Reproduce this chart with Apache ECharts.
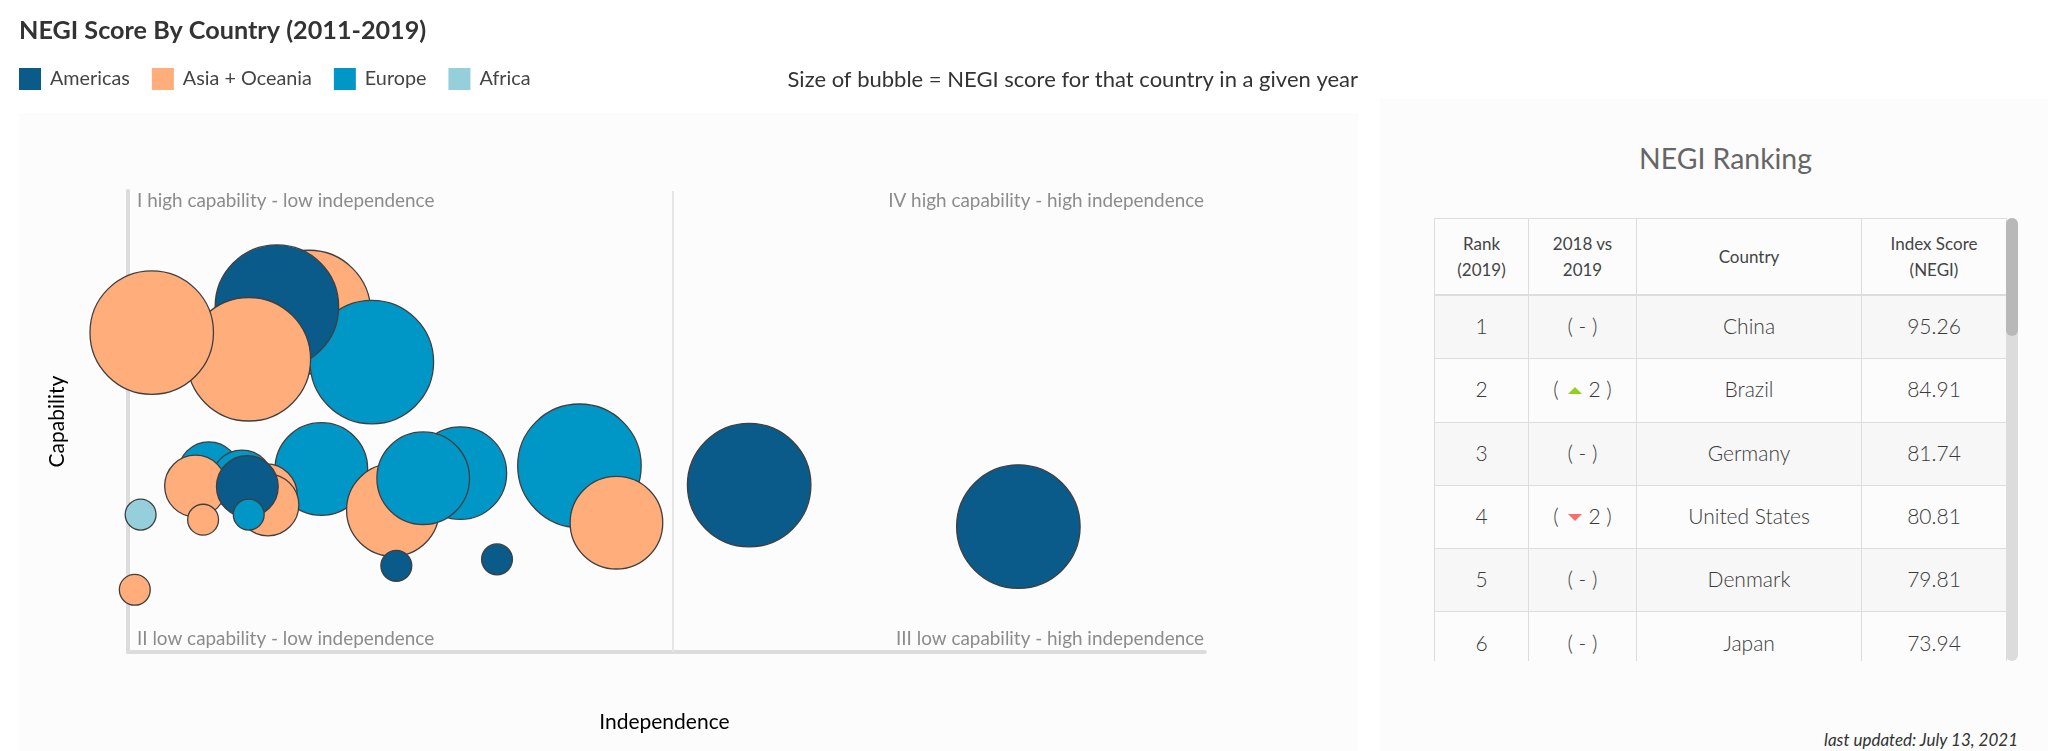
<!DOCTYPE html>
<html><head><meta charset="utf-8">
<script src="https://cdn.jsdelivr.net/npm/echarts@6/dist/echarts.min.js"></script>
<style>
html,body{margin:0;padding:0;width:2048px;height:751px;background:#fff;overflow:hidden;font-family:Lato,sans-serif}
#leftPanel{position:absolute;left:19px;top:113px;width:1339px;height:638px;background:#fcfcfc}
#chart{position:absolute;left:0;top:0;width:1370px;height:751px}
#rightPanel{position:absolute;left:1380px;top:99px;width:668px;height:652px;background:#fcfcfc}
#rankTitle{position:absolute;left:1380px;width:691px;top:138px;text-align:center;font-size:28.4px;color:#666;line-height:40px}
#tableWrap{position:absolute;left:1434px;top:218px;width:573px;height:443px;overflow:hidden}
table{border-collapse:collapse;table-layout:fixed;width:572px;font-weight:300}
td,th{border:1px solid #ddd;text-align:center;padding:0;color:#3a3a3a;font-size:21px;font-weight:300}
th{height:75px;font-size:17px;font-weight:400;color:#444;line-height:26px;border-bottom:2px solid #ddd}
td{height:59.3px;padding-bottom:3px}
tr:nth-child(even) td{background:#f7f7f7}
tr:nth-child(odd) td{background:#fcfcfc}
.up,.down{display:inline-block;width:0;height:0;border-left:7px solid transparent;border-right:7px solid transparent;margin:0 6px 3px 4px}
.up{border-bottom:7px solid #93cf1e}
.down{border-top:7px solid #f56f6f}
#track{position:absolute;left:2006px;top:218px;width:12px;height:443px;background:#dcdcdc;border-radius:6px}
#thumb{position:absolute;left:2006px;top:218px;width:12px;height:118px;background:#b8b8b8;border-radius:6px}
#updated{position:absolute;right:30px;top:729px;font-size:17px;font-style:italic;color:#333;line-height:22px}
</style></head><body>
<div id="leftPanel"></div>
<div id="chart"></div>
<div id="rightPanel"></div>
<div id="rankTitle">NEGI Ranking</div>
<div id="tableWrap"><table id="rank"></table></div>
<div id="track"></div><div id="thumb"></div>
<div id="updated">last updated: July 13, 2021</div>
<script>
// Bubble data, in back-to-front drawing order
const bubbleRegion = ['Asia + Oceania','Europe','Americas','Asia + Oceania','Asia + Oceania','Europe','Europe','Europe','Asia + Oceania','Asia + Oceania','Asia + Oceania','Americas','Asia + Oceania','Europe','Africa','Asia + Oceania','Asia + Oceania','Europe','Europe','Americas','Americas','Europe','Asia + Oceania','Americas','Americas'];
const independence = [16.77,22.6,13.8,11.2,2.2,17.92,7.5,10.57,12.82,12.97,6.26,11.06,6.96,11.19,1.17,0.63,24.55,30.8,27.36,24.87,34.2,41.84,45.27,57.57,82.52];
const capability =   [73.75,62.9,74.9,63.5,69.3,39.7,38.9,37.1,34.1,31.9,36.0,35.9,28.7,29.8,29.8,13.5,30.8,38.8,37.7,18.7,20.1,40.4,28.05,36.2,27.2];
const negiScore =    [100,100,100,100,100,75,50,50,50,50,50,50,25,25,25,25,75,75,75,25,25,100,75,100,100];
const regions = ['Americas','Asia + Oceania','Europe','Africa'];
const regionColors = ['#0a5a8a','#ffad7a','#0097c7','#96cfdc'];
const quadrantLines = {x:50.5,y:50,yTop:100,xRight:100};

// Table data
const tableHead = ['Rank<br>(2019)','2018 vs<br>2019','Country','Index Score<br>(NEGI)'];
const ranks = [1,2,3,4,5,6];
const changes = [0,2,0,-2,0,0];
const countries = ['China','Brazil','Germany','United States','Denmark','Japan'];
const scores = ['95.26','84.91','81.74','80.81','79.81','73.94'];
const colWidths = [94,108,225,145];

const FONT='Lato';
const runs=[];
bubbleRegion.forEach((r,i)=>{
  const last=runs[runs.length-1];
  const p=[independence[i],capability[i],negiScore[i]];
  if(last&&last.name===r) last.data.push(p); else runs.push({name:r,data:[p]});
});
const chart=echarts.init(document.getElementById('chart'));
const quadrantText=(text,x,y,align)=>({type:'text',x,y,style:{text,fill:'#8c8c8c',font:'400 18.9px '+FONT,textAlign:align,textVerticalAlign:'middle'}});
chart.setOption({
  animation:false,
  textStyle:{fontFamily:FONT},
  title:[
    {text:'NEGI Score By Country (2011-2019)',left:19,top:18,padding:0,textStyle:{fontSize:25.2,fontWeight:'bold',color:'#333',fontFamily:FONT}},
    {text:'Size of bubble = NEGI score for that country in a given year',right:12,top:69,padding:0,textStyle:{fontSize:22,fontWeight:'normal',color:'#333',fontFamily:FONT}}
  ],
  legend:{data:regions,left:19,top:68,padding:0,itemWidth:22,itemHeight:22,itemGap:22,icon:'rect',itemStyle:{borderWidth:0},textStyle:{fontSize:19.8,color:'#444',fontFamily:FONT,padding:[0,0,0,4]}},
  grid:{left:128,top:191,width:1076.8,height:461},
  xAxis:{type:'value',min:0,max:99.8,name:'Independence',nameLocation:'middle',nameGap:60,
    nameTextStyle:{fontSize:21,color:'#000',fontFamily:FONT,padding:[0,4,0,0]},
    axisLine:{lineStyle:{color:'#dcdcdc',width:4}},axisTick:{show:false},axisLabel:{show:false},splitLine:{show:false}},
  yAxis:{type:'value',min:0,max:100,name:'Capability',nameLocation:'middle',nameGap:60,
    nameTextStyle:{fontSize:21,color:'#000',fontFamily:FONT},
    axisLine:{lineStyle:{color:'#dcdcdc',width:4}},axisTick:{show:false},axisLabel:{show:false},splitLine:{show:false}},
  graphic:[
    quadrantText('I high capability - low independence',137,201,'left'),
    quadrantText('IV high capability - high independence',1204,201,'right'),
    quadrantText('II low capability - low independence',137,639,'left'),
    quadrantText('III low capability - high independence',1204,639,'right')
  ],
  series:[{type:'scatter',name:'quadrants',silent:true,clip:false,z:1,data:[],
    markLine:{z:1,silent:true,symbol:'none',label:{show:false},lineStyle:{color:'#e6e6e6',width:2,type:'solid'},
      data:[
        [{xAxis:quadrantLines.x,yAxis:0},{xAxis:quadrantLines.x,yAxis:quadrantLines.yTop}],
        [{xAxis:0,yAxis:quadrantLines.y},{xAxis:quadrantLines.xRight,yAxis:quadrantLines.y}]
      ]}}]
  .concat(runs.map(r=>({
    type:'scatter',name:r.name,data:r.data,clip:false,z:3,
    symbolSize:v=>v[2]*1.235,
    itemStyle:{color:regionColors[regions.indexOf(r.name)],borderColor:'#3f3f3f',borderWidth:1.3,opacity:1}
  })))
});
// Ranking table
const tbl=document.getElementById('rank');
let html='<colgroup>'+colWidths.map(w=>'<col style="width:'+w+'px">').join('')+'</colgroup><tr>'+tableHead.map(h=>'<th>'+h+'</th>').join('')+'</tr>';
ranks.forEach((r,i)=>{
  const c=changes[i];
  const ch=c===0?'( - )':'( <span class="'+(c>0?'up':'down')+'"></span>'+Math.abs(c)+' )';
  html+='<tr><td>'+r+'</td><td>'+ch+'</td><td>'+countries[i]+'</td><td>'+scores[i]+'</td></tr>';
});
tbl.innerHTML=html;
</script>
</body></html>
